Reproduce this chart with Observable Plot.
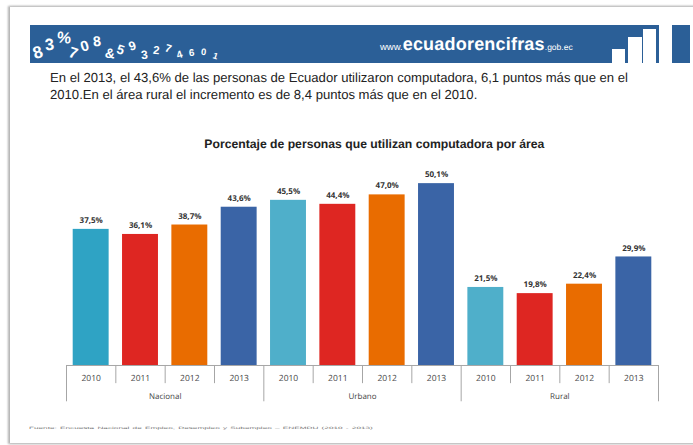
<!DOCTYPE html>
<html lang="es">
<head>
<meta charset="utf-8">
<script src="https://cdn.jsdelivr.net/npm/d3@7"></script>
<script src="https://cdn.jsdelivr.net/npm/@observablehq/plot@0.6"></script>
<style>
  html, body { margin: 0; padding: 0; background: #fff; }
  #slide { position: relative; width: 693px; height: 445px; overflow: hidden; font-family: "Liberation Sans", Arial, sans-serif; text-rendering: geometricPrecision; }
  #chart { position: absolute; left: 0; top: 0; }
  #frame { position: absolute; left: 10px; top: 7px; width: 720px; height: 436px; box-shadow: -1px 0 2px 1px #b4b4b4, 0 0 3px #d0d0d0; }
  #banner { position: absolute; left: 30px; top: 25px; width: 629px; height: 38px; background: #2b5f97; overflow: hidden; }
  #bannerEnd { position: absolute; left: 672px; top: 25px; width: 18px; height: 38px; background: #2b5f97; }
  #site { position: absolute; left: 350px; top: 9px; color: #fff; white-space: nowrap; font-size: 9.5px; line-height: 20px; }
  #site b { font-size: 18px; font-weight: 700; letter-spacing: .2px; }
  #site small { font-size: 8.5px; }
  .step { position: absolute; background: #fff; bottom: 0; }
  .glyph { position: absolute; color: #fff; font-weight: 700; line-height: 1; }
  #lead { position: absolute; left: 50px; top: 69px; width: 630px; font-size: 13.1px; line-height: 17px; color: #222; white-space: nowrap; }
  #source { position: absolute; left: 29px; top: 426px; font-size: 8.2px; line-height: 9px; color: #777; white-space: nowrap; word-spacing: 1px; transform: scaleY(.4); transform-origin: left top; }
</style>
</head>
<body>
<div id="slide">
  <div id="chart"></div>
  <div id="frame"></div>
  <div id="banner">
    <span id="site">www.<b>ecuadorencifras</b><small>.gob.ec</small></span>
    <div class="step" style="left:582px;width:13px;height:14px"></div>
    <div class="step" style="left:598px;width:14px;height:26px"></div>
    <div class="step" style="left:613px;width:13px;height:34px"></div>
  </div>
  <div id="bannerEnd"></div>
  <div id="lead">En el 2013, el 43,6% de las personas de Ecuador utilizaron computadora, 6,1 puntos más que en el<br>2010.En el área rural el incremento es de 8,4 puntos más que en el 2010.</div>
  <div id="source">Fuente: Encuesta Nacional de Empleo, Desempleo y Subempleo – ENEMDU (2010 - 2013)</div>
</div>
<script>
// Share of people using a computer, by area and year
const areas = ["Nacional", "Urbano", "Rural"];
const years = ["2010", "2011", "2012", "2013"];
const nacional = [37.5, 36.1, 38.7, 43.6];
const urbano = [45.5, 44.4, 47.0, 50.1];
const rural = [21.5, 19.8, 22.4, 29.9];
const yearColors = ["#2fa3c4", "#de2622", "#e96c00", "#3a64a6"];
const urbanRural2010 = "#4fafca";
const bannerGlyphs = ["8", "3", "%", "7", "0", "8", "&", "5", "9", "3", "2", "7", "4", "6", "0", "1"];
const chartTitle = "Porcentaje de personas que utilizan computadora por área";

const rows = [nacional, urbano, rural].flatMap((values, a) =>
  values.map((value, y) => ({
    slot: a * years.length + y,
    area: areas[a],
    year: years[y],
    value,
    color: y === 0 && a > 0 ? urbanRural2010 : yearColors[y]
  }))
);
const areaRows = areas.map((area, a) => ({
  area, start: a * years.length, end: (a + 1) * years.length
}));
const edges = d3.range(0, rows.length + 1);
const percent = (v) => v.toFixed(1).replace(".", ",") + "%";

// The y scale runs below zero so the two-level axis shares the bars' scales.
const yearRow = -3.6, areaRow = -8.5, yearTick = -5, areaTick = -10;
const axisGrey = "#a6a6a6";
const labelFont = "Open Sans, sans-serif";

const chart = Plot.plot({
  width: 693,
  height: 445,
  margin: 0,
  x: {domain: [0, 12], range: [66, 658], axis: null},
  y: {domain: [-22.04, 100.55], range: [445, 0], axis: null},
  marks: [
    Plot.rectY(rows, {
      x1: "slot", x2: (d) => d.slot + 1, y1: 0, y2: "value",
      fill: "color", insetLeft: 6.7, insetRight: 6.7
    }),
    Plot.text(rows, {
      x: (d) => d.slot + 0.5, y: "value", text: (d) => percent(d.value),
      dy: -9, fontSize: 8, fontWeight: 700, fill: "#333", fontFamily: labelFont
    }),
    Plot.ruleY([0], {x1: 0, x2: 12, stroke: axisGrey}),
    Plot.ruleX(edges.filter((e) => e % 4 !== 0), {x: (d) => d, y1: 0, y2: yearTick, stroke: axisGrey}),
    Plot.ruleX(edges.filter((e) => e % 4 === 0), {x: (d) => d, y1: 0, y2: areaTick, stroke: axisGrey}),
    Plot.text(rows, {
      x: (d) => d.slot + 0.5, y: yearRow, text: "year",
      fontSize: 8.5, fill: "#444", fontFamily: labelFont
    }),
    Plot.text(areaRows, {
      x: (d) => (d.start + d.end) / 2, y: areaRow, text: "area",
      fontSize: 8, fill: "#444", fontFamily: labelFont
    }),
    Plot.text([chartTitle], {
      x: [6.24], y: [60.9], text: (d) => d,
      fontSize: 12.2, fontWeight: 700, fill: "#222",
      fontFamily: "Liberation Sans, sans-serif"
    })
  ]
});
document.getElementById("chart").append(chart);

// Scatter of white numerals along the left end of the banner
const banner = document.getElementById("banner");
bannerGlyphs.forEach((g, i) => {
  const s = document.createElement("span");
  const size = 17 - i * 0.55;
  s.className = "glyph";
  s.textContent = g;
  s.style.left = (3 + i * 12) + "px";
  s.style.top = 36 - size - (i % 3) * (8 - i * 0.45) + "px";
  s.style.fontSize = size + "px";
  s.style.transform = `rotate(${(i % 4) * 12 - 18}deg)`;
  banner.append(s);
});
</script>
</body>
</html>
